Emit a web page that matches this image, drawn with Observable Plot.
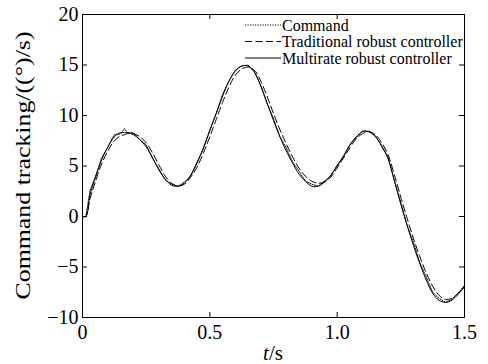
<!DOCTYPE html>
<html><head><meta charset="utf-8">
<script src="https://cdn.jsdelivr.net/npm/d3@7"></script>
<script src="https://cdn.jsdelivr.net/npm/@observablehq/plot@0.6"></script>
<style>
body{margin:0;background:#fff}
svg, svg text{font-family:"Liberation Serif","Times New Roman",serif !important}
</style>
</head><body><div id="chart"></div>
<script>
const t = [0,0.013,0.03,0.05,0.075,0.1,0.125,0.15,0.165,0.175,0.2,0.225,0.25,0.275,0.3,0.325,0.35,0.375,0.4,0.425,0.45,0.475,0.5,0.525,0.55,0.575,0.6,0.625,0.65,0.675,0.7,0.725,0.75,0.775,0.8,0.825,0.85,0.875,0.9,0.925,0.95,0.975,1.0,1.025,1.05,1.075,1.1,1.125,1.15,1.175,1.2,1.225,1.25,1.275,1.3,1.325,1.35,1.375,1.4,1.425,1.45,1.475,1.5];
const command = [0,0,2.6,3.9,5.8,6.9,8.1,8.2,8.7,8.3,8.3,7.6,7.1,5.8,4.7,3.6,3.2,3.0,3.4,4.0,5.4,6.7,8.6,10.2,12.1,13.4,14.5,14.9,15.0,14.3,13.0,11.2,9.7,7.9,6.8,5.4,4.5,3.5,3.2,3.0,3.5,4.0,5.1,5.9,7.1,7.8,8.5,8.4,8.0,6.9,5.9,3.5,1.4,-0.9,-2.6,-4.6,-6.0,-7.5,-8.1,-8.5,-8.2,-7.6,-6.8];
const traditional = [0,0,1.8,3.4,5.2,6.5,7.5,8.0,8.1,8.2,8.2,7.9,7.3,6.3,5.1,4.0,3.3,3.0,3.2,3.9,4.9,6.3,7.9,9.6,11.3,12.8,14.0,14.6,14.8,14.5,13.4,11.9,10.2,8.6,7.2,5.9,4.8,4.0,3.5,3.3,3.4,3.9,4.8,5.8,6.8,7.7,8.2,8.4,8.1,7.3,6.1,4.1,1.9,-0.2,-2.2,-4.0,-5.6,-6.9,-7.8,-8.2,-8.1,-7.6,-6.9];
const multirate = [0,0,2.2,3.8,5.6,6.9,7.9,8.3,8.3,8.3,8.1,7.6,6.9,5.8,4.6,3.7,3.1,3.0,3.3,4.1,5.3,6.8,8.5,10.2,11.9,13.4,14.4,14.9,14.9,14.3,12.9,11.2,9.5,7.9,6.5,5.3,4.2,3.5,3.0,3.0,3.4,4.1,5.0,6.0,7.1,7.9,8.4,8.4,7.9,7.0,5.7,3.5,1.2,-0.9,-2.9,-4.7,-6.3,-7.6,-8.3,-8.5,-8.3,-7.7,-7.0];
const seriesNames = ["Command","Traditional robust controller","Multirate robust controller"];
const xTicks = [0,0.5,1.0,1.5];
const xTickLabels = ["0","0.5","1.0","1.5"];
const yTicks = [-10,-5,0,5,10,15,20];
const yTickLabels = ["\u221210","\u22125","0","5","10","15","20"];
const yTitle = "Command tracking/((\u00B0)/s)";
const xTitleItalic = "t";
const xTitleRest = "/s";

const seriesValues = [command, traditional, multirate];
const dashes = ["1.2,1.3", "7,3.5", null];
const curves = ["linear", "catmull-rom", "catmull-rom"];
const data = seriesNames.map((name, k) => t.map((tt, i) => ({t: tt, v: seriesValues[k][i], name})));

const W = 488, H = 364, ML = 82, MR = 24, MT = 14, MB = 47, TK = 5;
const innerW = W - ML - MR, innerH = H - MT - MB;

const plot = Plot.plot({
  width: W, height: H,
  marginLeft: ML, marginRight: MR, marginTop: MT, marginBottom: MB,
  style: {background: "white", color: "black"},
  x: {domain: [0, 1.5], label: null},
  y: {domain: [-10, 20], label: null},
  marks: [
    ...data.map((d, k) => Plot.line(d, {x: "t", y: "v", stroke: "black", strokeWidth: 1, strokeDasharray: dashes[k], curve: curves[k]})),
    Plot.axisX(xTicks, {tickSize: 0, tickPadding: 7, fontSize: 20, tickFormat: (d, i) => xTickLabels[i]}),
    Plot.axisY(yTicks, {tickSize: 0, tickPadding: 4, fontSize: 20, tickFormat: (d, i) => yTickLabels[i]}),
    Plot.tickX(xTicks, {x: d => d, insetTop: innerH - TK, stroke: "black"}),
    Plot.tickX(xTicks, {x: d => d, insetBottom: innerH - TK, stroke: "black"}),
    Plot.tickY(yTicks, {y: d => d, insetRight: innerW - TK, stroke: "black"}),
    Plot.tickY(yTicks, {y: d => d, insetLeft: innerW - TK, stroke: "black"}),
    Plot.frame({stroke: "black", strokeWidth: 1})
  ]
});

const svg = d3.select(plot);
// y title
svg.append("text")
  .attr("transform", "translate(30,165.5) rotate(-90)")
  .attr("text-anchor", "middle")
  .attr("font-size", 22)
  .attr("textLength", 268)
  .attr("lengthAdjust", "spacingAndGlyphs")
  .attr("fill", "black")
  .text(yTitle);
// x title
const xt = svg.append("text")
  .attr("x", 273).attr("y", 360)
  .attr("text-anchor", "middle")
  .attr("font-size", 21)
  .attr("fill", "black");
xt.append("tspan").attr("font-style", "italic").text(xTitleItalic);
xt.append("tspan").text(xTitleRest);
// legend
const lg = svg.append("g");
seriesNames.forEach((name, k) => {
  const base = 30.5 + k * 16.5;
  lg.append("line").attr("x1", 245).attr("x2", 281).attr("y1", base - 5.5).attr("y2", base - 5.5)
    .attr("stroke", "black").attr("stroke-width", 1).attr("stroke-dasharray", dashes[k]);
  lg.append("text").attr("x", 282).attr("y", base).attr("text-anchor", "start")
    .attr("font-size", 16).attr("fill", "black").text(name);
});

document.getElementById("chart").appendChild(plot);
</script>
</body></html>
